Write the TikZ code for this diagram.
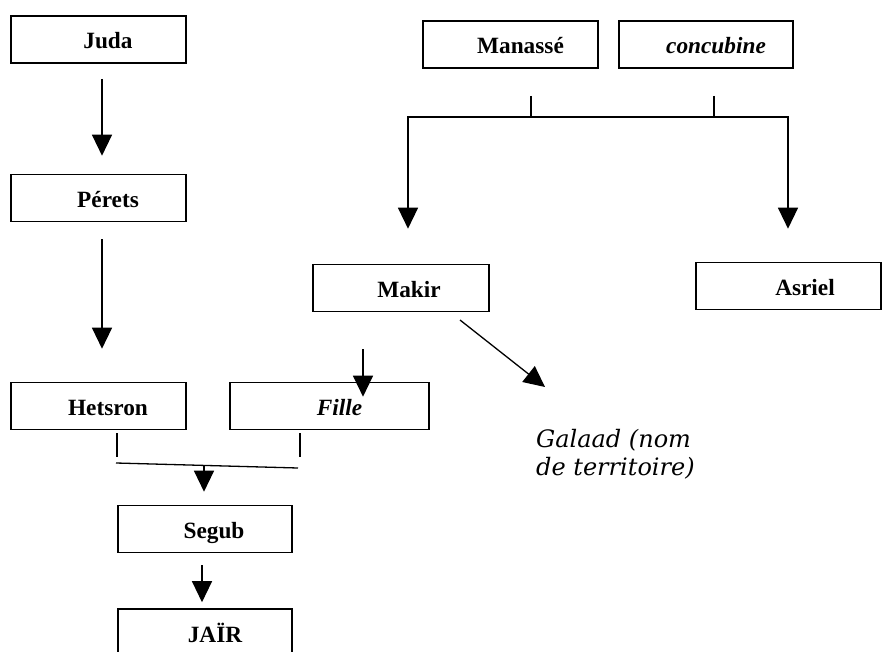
\documentclass[tikz,border=0pt]{standalone}
\usepackage{fontspec}
\setmainfont{Liberation Serif}
\newfontfamily\galfont{DejaVu Serif}
\usetikzlibrary{arrows.meta,calc}
\newcommand{\bxsh}[1]{\hspace*{#1pt}}
\begin{document}
\begin{tikzpicture}[x=1pt,y=-1pt,
  box/.style={draw, line width=1.6pt, minimum width=175pt, minimum height=47pt,
    inner sep=0pt, text height=19pt, text depth=0pt,
    font=\fontsize{23.3}{26}\selectfont\bfseries},
  conn/.style={line width=1.3pt},
  tip/.style={Triangle[length=21pt,width=20pt]},
  arr/.style={conn, -{Triangle[length=21pt,width=20pt]}},
  arrboth/.style={conn, line join=miter, {Triangle[length=21pt,width=20pt]}-{Triangle[length=21pt,width=20pt]}},
  galstyle/.style={font=\galfont\itshape\fontsize{24}{28}\selectfont, align=left, anchor=north west, inner sep=0pt}
]
\clip (0,0) rectangle (882,652);
\fill[white] (0,0) rectangle (882,652);

% boxes
\node[box] (juda) at (98.5,39.5) {\bxsh{19}Juda};
\node[box] (perets) at (98.5,198) {\bxsh{19}Pérets};
\node[box] (hetsron) at (98.5,406) {\bxsh{19}Hetsron};
\node[box, minimum width=199pt] (fille) at (329.5,406) {\bxsh{20}\itshape Fille};
\node[box, minimum width=174pt] (segub) at (205,529) {\bxsh{18}Segub};
\node[box, minimum width=174pt] (jair) at (205,632.5) {\bxsh{20}JAÏR};
\node[box] (manasse) at (510.5,44.5) {\bxsh{20}Manassé};
\node[box, minimum width=174pt] (concubine) at (706,44.5) {\bxsh{20}\itshape concubine};
\node[box, minimum width=176pt] (makir) at (401,288) {\bxsh{16}Makir};
\node[box, minimum width=185pt] (asriel) at (788.5,286) {\bxsh{33}Asriel};

\node[galstyle] (galaad) at (536,429) {Galaad (nom\\de territoire)};

% left lineage
\coordinate (cA) at (102,0);
\draw[arr, shorten <=15pt, shorten >=18pt] (juda.south -| cA) -- (perets.north -| cA);
\draw[arr, shorten <=17pt, shorten >=33pt] (perets.south -| cA) -- (hetsron.north -| cA);

\coordinate (cF) at (363,0);
\draw[arr, shorten <=37pt, shorten >=-15pt] (makir.south -| cF) -- (fille.north -| cF);

% Hetsron + Fille -> Segub
\coordinate (hv) at (117,457);
\coordinate (fv) at (300,457);
\draw[conn, shorten <=3pt] (hetsron.south -| hv) -- (hv);
\draw[conn, shorten <=3pt] (fille.south -| fv) -- (fv);
\coordinate (jl) at (116,463);
\coordinate (jr) at (298,468);
\draw[conn] (jl) -- (jr);
\coordinate (jm) at (204,465.5);
\draw[arr, shorten >=13pt] (jm) -- (segub.north -| jm);
\coordinate (cS) at (202,0);
\draw[arr, shorten <=12pt, shorten >=6pt] (segub.south -| cS) -- (jair.north -| cS);

% Manasse + concubine
\coordinate (t1) at (531,118);
\coordinate (t2) at (714,118);
\draw[conn, shorten <=27pt] (manasse.south -| t1) -- (t1);
\draw[conn, shorten <=27pt] (concubine.south -| t2) -- (t2);
\coordinate (bl) at (408,117);
\coordinate (br) at (788,117);
\draw[arrboth, shorten <=35pt, shorten >=33pt] (makir.north -| bl) -- (bl) -- (br) -- (asriel.north -| br);

% Makir -> Galaad
\coordinate (g0) at (460,320);
\coordinate (g1) at (545,387);
\draw[arr] (g0) -- (g1);
\end{tikzpicture}
\end{document}
